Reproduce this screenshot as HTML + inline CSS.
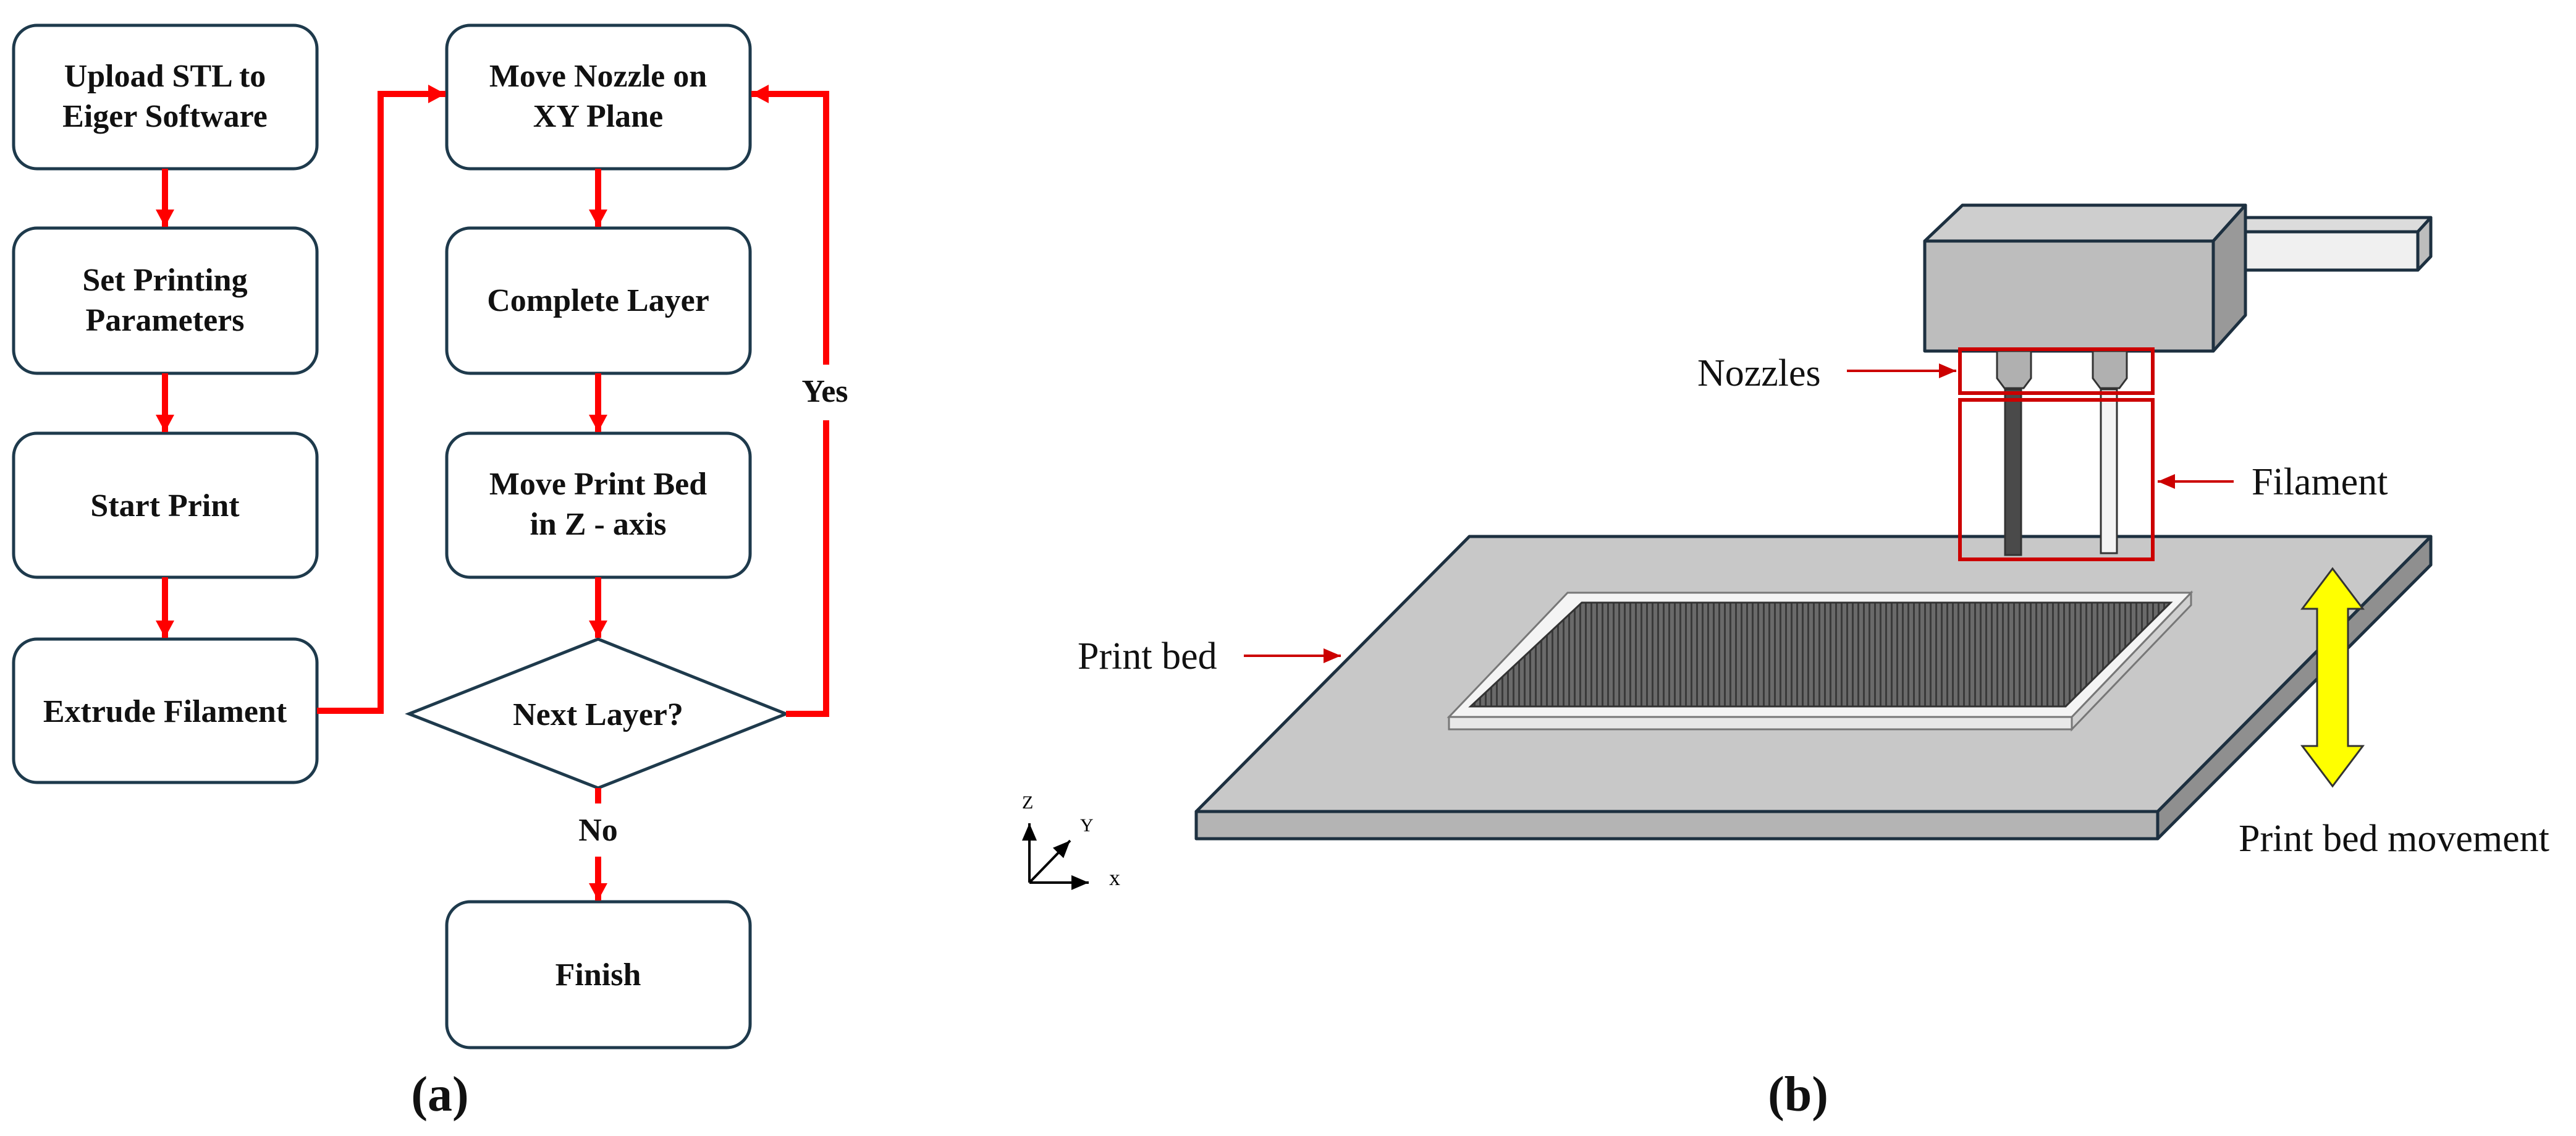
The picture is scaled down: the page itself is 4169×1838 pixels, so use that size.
<!DOCTYPE html>
<html><head><meta charset="utf-8"><style>
html,body{margin:0;padding:0;background:#fff;}
svg{display:block;}
.bt{font-family:"Liberation Serif",serif;font-weight:bold;font-size:52px;fill:#111;text-anchor:middle;}
.lt{font-family:"Liberation Serif",serif;font-size:62px;fill:#111;}
</style></head><body>
<svg width="4169" height="1838" viewBox="0 0 4169 1838" xmlns="http://www.w3.org/2000/svg">
<defs>
<marker id="ah" markerWidth="30" markerHeight="32" refX="28" refY="16" orient="auto" markerUnits="userSpaceOnUse"><path d="M0,1 L28,16 L0,31 Z" fill="#f00"/></marker>
<marker id="ah2" markerWidth="8" markerHeight="8" refX="7" refY="4" orient="auto" markerUnits="strokeWidth"><path d="M0,1 L7,4 L0,7 Z" fill="#c00"/></marker>
<marker id="ak" markerWidth="8" markerHeight="8" refX="7" refY="4" orient="auto" markerUnits="strokeWidth"><path d="M0,1 L7,4 L0,7 Z" fill="#000"/></marker>
<pattern id="hatch" width="9" height="10" patternUnits="userSpaceOnUse"><rect width="9" height="10" fill="#6a6a6a"/><rect x="0" width="3" height="10" fill="#3a3a3a"/></pattern>
</defs>
<g fill="#fff" stroke="#1e3a4c" stroke-width="5">
<rect x="22" y="41" width="491" height="232" rx="38"/>
<rect x="22" y="369" width="491" height="235" rx="38"/>
<rect x="22" y="701" width="491" height="233" rx="38"/>
<rect x="22" y="1034" width="491" height="232" rx="38"/>
<rect x="723" y="41" width="491" height="232" rx="38"/>
<rect x="723" y="369" width="491" height="235" rx="38"/>
<rect x="723" y="701" width="491" height="233" rx="38"/>
<rect x="723" y="1459" width="491" height="236" rx="38"/>
<polygon points="662,1155 968,1034 1272,1155 968,1275"/>
</g>
<g stroke="#f00" stroke-width="10" fill="none">
<line x1="267" y1="273" x2="267" y2="367" marker-end="url(#ah)"/>
<line x1="267" y1="604" x2="267" y2="699" marker-end="url(#ah)"/>
<line x1="267" y1="934" x2="267" y2="1032" marker-end="url(#ah)"/>
<line x1="968" y1="273" x2="968" y2="367" marker-end="url(#ah)"/>
<line x1="968" y1="604" x2="968" y2="699" marker-end="url(#ah)"/>
<line x1="968" y1="934" x2="968" y2="1032" marker-end="url(#ah)"/>
<line x1="968" y1="1275" x2="968" y2="1300"/>
<line x1="968" y1="1386" x2="968" y2="1457" marker-end="url(#ah)"/>
<polyline points="513,1150 616,1150 616,152 721,152" marker-end="url(#ah)"/>
<polyline points="1272,1155 1337,1155 1337,680"/>
<polyline points="1337,590 1337,152 1216,152" marker-end="url(#ah)"/>
</g>
<text class="bt" x="267" y="140">Upload STL to</text>
<text class="bt" x="267" y="205">Eiger Software</text>
<text class="bt" x="267" y="470">Set Printing</text>
<text class="bt" x="267" y="535">Parameters</text>
<text class="bt" x="267" y="835">Start Print</text>
<text class="bt" x="267" y="1168">Extrude Filament</text>
<text class="bt" x="968" y="140">Move Nozzle on</text>
<text class="bt" x="968" y="205">XY Plane</text>
<text class="bt" x="968" y="503">Complete Layer</text>
<text class="bt" x="968" y="800">Move Print Bed</text>
<text class="bt" x="968" y="865">in Z - axis</text>
<text class="bt" x="968" y="1173">Next Layer?</text>
<text class="bt" x="1335" y="650">Yes</text>
<text class="bt" x="968" y="1360">No</text>
<text class="bt" x="968" y="1594">Finish</text>
<text class="bt" x="712" y="1797" style="font-size:80px">(a)</text>

<g stroke="#1d3040" stroke-width="5" stroke-linejoin="round">
<polygon points="1936,1313 3492,1313 3492,1357 1936,1357" fill="#b4b4b4"/>
<polygon points="3492,1313 3934,868 3934,914 3492,1357" fill="#8f8f8f"/>
<polygon points="2378,868 3934,868 3492,1313 1936,1313" fill="#c8c8c8"/>
</g>
<polygon points="2345,1160 3353,1160 3353,1180 2345,1180" fill="#e8e8e8" stroke="#777" stroke-width="3"/>
<polygon points="3353,1160 3546,959 3546,979 3353,1180" fill="#d0d0d0" stroke="#777" stroke-width="3"/>
<polygon points="2537,959 3546,959 3353,1160 2345,1160" fill="#f4f4f4" stroke="#777" stroke-width="3"/>
<polygon points="2560,975 3513,975 3343,1143 2380,1143" fill="url(#hatch)" stroke="#333" stroke-width="3"/>
<g stroke="#1d3040" stroke-width="5" stroke-linejoin="round">
<polygon points="3590,375 3913,375 3934,352 3611,352" fill="#dcdcdc"/>
<polygon points="3913,375 3934,352 3934,415 3913,437" fill="#bdbdbd"/>
<rect x="3590" y="375" width="323" height="62" fill="#f0f0f0"/>
<polygon points="3115,390 3176,332 3634,332 3582,390" fill="#cecece"/>
<polygon points="3582,390 3634,332 3634,510 3582,568" fill="#999"/>
<rect x="3115" y="390" width="467" height="178" fill="#bdbdbd"/>
</g>
<g stroke="#333" stroke-width="3">
<path d="M3232,568 L3287,568 L3287,612 L3275,628 L3244,628 L3232,612 Z" fill="#b0b0b0"/>
<path d="M3387,568 L3442,568 L3442,612 L3430,628 L3399,628 L3387,612 Z" fill="#b0b0b0"/>
<rect x="3245" y="630" width="26" height="268" fill="#4a4a4a"/>
<rect x="3400" y="630" width="26" height="265" fill="#f4f4f4"/>
</g>
<g fill="none" stroke="#c00" stroke-width="6">
<rect x="3172" y="565" width="312" height="71"/>
<rect x="3172" y="647" width="312" height="258"/>
<line x1="2989" y1="600" x2="3166" y2="600" stroke-width="4" marker-end="url(#ah2)"/>
<line x1="3615" y1="779" x2="3492" y2="779" stroke-width="4" marker-end="url(#ah2)"/>
<line x1="2013" y1="1061" x2="2170" y2="1061" stroke-width="4" marker-end="url(#ah2)"/>
</g>
<polygon points="3775,920 3824,985 3800,985 3800,1207 3824,1207 3775,1272 3726,1207 3750,1207 3750,985 3726,985" fill="#ffff00" stroke="#333" stroke-width="3"/>
<text class="lt" x="2747" y="624">Nozzles</text>
<text class="lt" x="3644" y="800">Filament</text>
<text class="lt" x="1744" y="1082">Print bed</text>
<text class="lt" x="3623" y="1377">Print bed movement</text>
<g stroke="#000" stroke-width="4" fill="none">
<line x1="1666" y1="1428" x2="1666" y2="1332" marker-end="url(#ak)"/>
<line x1="1666" y1="1428" x2="1762" y2="1428" marker-end="url(#ak)"/>
<line x1="1666" y1="1428" x2="1732" y2="1360" marker-end="url(#ak)"/>
</g>
<text x="1654" y="1308" style="font-family:'Liberation Serif',serif;font-size:30px">Z</text>
<text x="1748" y="1345" style="font-family:'Liberation Serif',serif;font-size:30px">Y</text>
<text x="1795" y="1432" style="font-family:'Liberation Serif',serif;font-size:36px">x</text>
<text class="bt" x="2910" y="1797" style="font-size:80px">(b)</text>
</svg>
</body></html>
